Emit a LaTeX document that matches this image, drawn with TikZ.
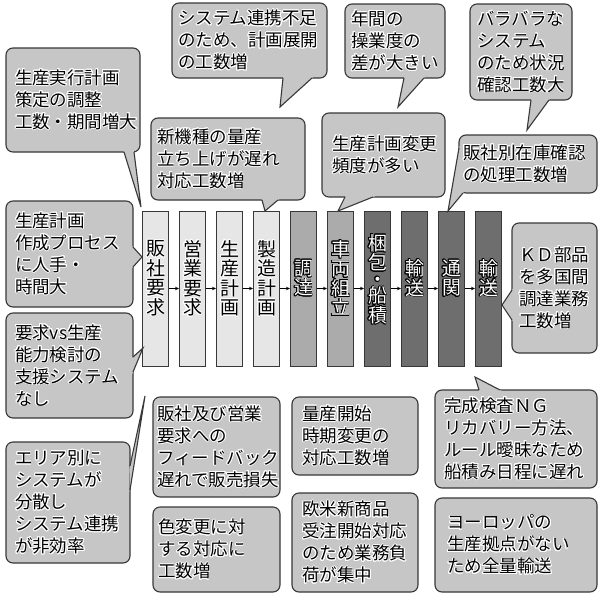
\documentclass[tikz,border=0pt]{standalone}
\usepackage{fontspec}
\setmainfont{Noto Sans CJK JP}
\usepackage[copies]{contour}
\contourlength{0.8pt}
\usetikzlibrary{arrows.meta,calc}
\definecolor{cofill}{HTML}{C6C6C6}
\definecolor{coline}{HTML}{383838}
\definecolor{plight}{HTML}{E6E6E6}
\definecolor{pmed}{HTML}{ABABAB}
\definecolor{pdark}{HTML}{6E6E6E}
\newcommand\wh[1]{\contour{white}{#1}}
\newcommand\bk[1]{\textcolor{white}{\contour{black}{#1}}}
\tikzset{
  callout/.style={draw=coline, fill=cofill, line width=1.1pt, rounded corners=7pt,
    inner ysep=0pt, align=left, font=\fontsize{17.5}{22}\selectfont},
  pline/.style={draw=coline, line width=1.1pt, line join=miter},
  pbox/.style={draw=coline, line width=1pt, minimum width=26pt, minimum height=155pt, inner sep=0pt},
  ptext/.style={align=center, inner sep=0pt, font=\fontsize{19}{19.5}\selectfont},
  flow/.style={draw=black, line width=0.8pt, -{Stealth[length=4pt,width=3.5pt]}}
}
\newcommand\co[7]{%
  \pgfmathsetmacro\cotw{#4-2*#6}%
  \node[callout, minimum width=#4pt, minimum height=#5pt, inner xsep=#6pt, text width=\cotw pt] (#1) at (#2,#3) {#7};}
\newcommand\ptr[3]{%
  \fill[cofill] ($(#1)!-2.5pt!(#2)$) -- (#2) -- ($(#3)!-2.5pt!(#2)$) -- cycle;
  \draw[pline] (#1) -- (#2) -- (#3);}
\begin{document}
\begin{tikzpicture}[x=1pt,y=-1pt]
\useasboundingbox (0,0) rectangle (600,600);
\fill[white] (0,0) rectangle (600,600);

% process boxes
\foreach \i/\cx/\col in {1/155.5/plight,2/192.5/plight,3/229.5/plight,4/266.5/plight,5/303.5/pmed,6/340.5/pmed,7/377.5/pdark,8/414.5/pdark,9/451.5/pdark,10/488.5/pdark}{
  \node[pbox, fill=\col] (b\i) at (\cx,288.5) {};
}
\node[ptext] (t1) at ([yshift=10pt]b1.center) {\wh{販}\\\wh{社}\\\wh{要}\\\wh{求}};
\node[ptext] (t2) at ([yshift=10pt]b2.center) {\wh{営}\\\wh{業}\\\wh{要}\\\wh{求}};
\node[ptext] (t3) at ([yshift=10pt]b3.center) {\wh{生}\\\wh{産}\\\wh{計}\\\wh{画}};
\node[ptext] (t4) at ([yshift=10pt]b4.center) {\wh{製}\\\wh{造}\\\wh{計}\\\wh{画}};
\node[ptext] (t5) at ([yshift=10pt]b5.center) {\bk{調}\\\bk{達}};
\node[ptext] (t6) at ([yshift=10pt]b6.center) {\bk{車}\\\bk{両}\\\bk{組}\\\bk{立}};
\node[ptext] (t7) at ([yshift=9pt]b7.center) {\bk{梱}\\\bk{包}\\[-3pt]\bk{・}\\[-3pt]\bk{船}\\\bk{積}};
\node[ptext] (t8) at ([yshift=10pt]b8.center) {\bk{輸}\\\bk{送}};
\node[ptext] (t9) at ([yshift=10pt]b9.center) {\bk{通}\\\bk{関}};
\node[ptext] (t10) at ([yshift=10pt]b10.center) {\bk{輸}\\\bk{送}};
\foreach \a/\b in {1/2,2/3,3/4,4/5,5/6,6/7,7/8,8/9,9/10}{
  \draw[flow] (b\a.east) -- (b\b.west);
}

% callouts
\co{c1}{73}{100}{134}{104}{9}{\wh{生産実行計画}\\\wh{策定の調整}\\\wh{工数・期間増大}}
\coordinate (c1a) at (124,152); \coordinate (c1t) at (141,207); \coordinate (c1b) at (134,152);
\ptr{c1a}{c1t}{c1b}

\co{c2}{249.5}{40.5}{155}{75}{6}{\wh{システム連携不足}\\\wh{のため、計画展開}\\\wh{の工数増}}
\coordinate (c2a) at (283,78); \coordinate (c2t) at (280,107); \coordinate (c2b) at (312,78);
\ptr{c2a}{c2t}{c2b}

\co{c3}{395}{41}{100}{74}{6}{\wh{年間の}\\\wh{操業度の}\\\wh{差が大きい}}
\coordinate (c3a) at (404,78); \coordinate (c3t) at (398,107); \coordinate (c3b) at (424,78);
\ptr{c3a}{c3t}{c3b}

\co{c4}{521}{52}{102}{96}{7}{\wh{バラバラな}\\\wh{システム}\\\wh{のため状況}\\\wh{確認工数大}}
\coordinate (c4a) at (531,100); \coordinate (c4t) at (527,130); \coordinate (c4b) at (549,100);
\ptr{c4a}{c4t}{c4b}

\co{c5}{228}{159}{154}{82}{6}{\wh{新機種の量産}\\\wh{立ち上げが遅れ}\\\wh{対応工数増}}
\coordinate (c5a) at (262,200); \coordinate (c5t) at (265,211); \coordinate (c5b) at (278,200);
\ptr{c5a}{c5t}{c5b}

\co{c6}{383.5}{155}{123}{84}{10}{\wh{生産計画変更}\\\wh{頻度が多い}}
\coordinate (c6a) at (345,197); \coordinate (c6t) at (338,211); \coordinate (c6b) at (373,197);
\ptr{c6a}{c6t}{c6b}

\co{c7}{528}{164}{138}{58}{4}{\wh{販社別在庫確認}\\\wh{の処理工数増}}
\coordinate (c7a) at (459,148); \coordinate (c7t) at (448,211); \coordinate (c7b) at (463,193);
\ptr{c7a}{c7t}{c7b}

\co{c8}{69.5}{254}{127}{106}{9}{\wh{生産計画}\\\wh{作成プロセス}\\\wh{に人手・}\\\wh{時間大}}
\coordinate (c8a) at (133,247); \coordinate (c8t) at (142,257); \coordinate (c8b) at (133,267);
\ptr{c8a}{c8t}{c8b}

\co{c9}{69.5}{365.5}{127}{105}{9}{\wh{要求vs生産}\\\wh{能力検討の}\\\wh{支援システム}\\\wh{なし}}
\coordinate (c9a) at (133,357); \coordinate (c9t) at (143,348); \coordinate (c9b) at (133,372);
\ptr{c9a}{c9t}{c9b}

\co{c10}{68}{502.5}{124}{121}{9}{\wh{エリア別に}\\\wh{システムが}\\\wh{分散し}\\\wh{システム連携}\\\wh{が非効率}}
\coordinate (c10a) at (130,466); \coordinate (c10t) at (145,396); \coordinate (c10b) at (130,490);
\ptr{c10a}{c10t}{c10b}

\co{c11}{216.5}{447}{127}{100}{4}{\wh{販社及び営業}\\\wh{要求への}\\\wh{フィードバック}\\\wh{遅れで販売損失}}
\co{c12}{216.5}{549.5}{127}{85}{5}{\wh{色変更に対}\\\wh{する対応に}\\\wh{工数増}}
\co{c13}{355}{436}{126}{78}{10}{\wh{量産開始}\\\wh{時期変更の}\\\wh{対応工数増}}
\co{c14}{355}{542.5}{126}{99}{10}{\wh{欧米新商品}\\\wh{受注開始対応}\\\wh{のため業務負}\\\wh{荷が集中}}

\co{c15}{516}{439}{162}{98}{9}{\wh{完成検査ＮＧ}\\\wh{リカバリー方法、}\\\wh{ルール曖昧なため}\\\wh{船積み日程に遅れ}}
\coordinate (c15a) at (479,390); \coordinate (c15t) at (475,377); \coordinate (c15b) at (500,390);
\ptr{c15a}{c15t}{c15b}

\co{c16}{516}{545}{162}{94}{12}{\wh{ヨーロッパの}\\\wh{生産拠点がない}\\\wh{ため全量輸送}}

\co{c17}{554.5}{288}{85}{130}{7}{\wh{ＫＤ部品}\\\wh{を多国間}\\\wh{調達業務}\\\wh{工数増}}
\coordinate (c17a) at (512,290); \coordinate (c17t) at (502,305); \coordinate (c17b) at (512,320);
\ptr{c17a}{c17t}{c17b}
\end{tikzpicture}
\end{document}
